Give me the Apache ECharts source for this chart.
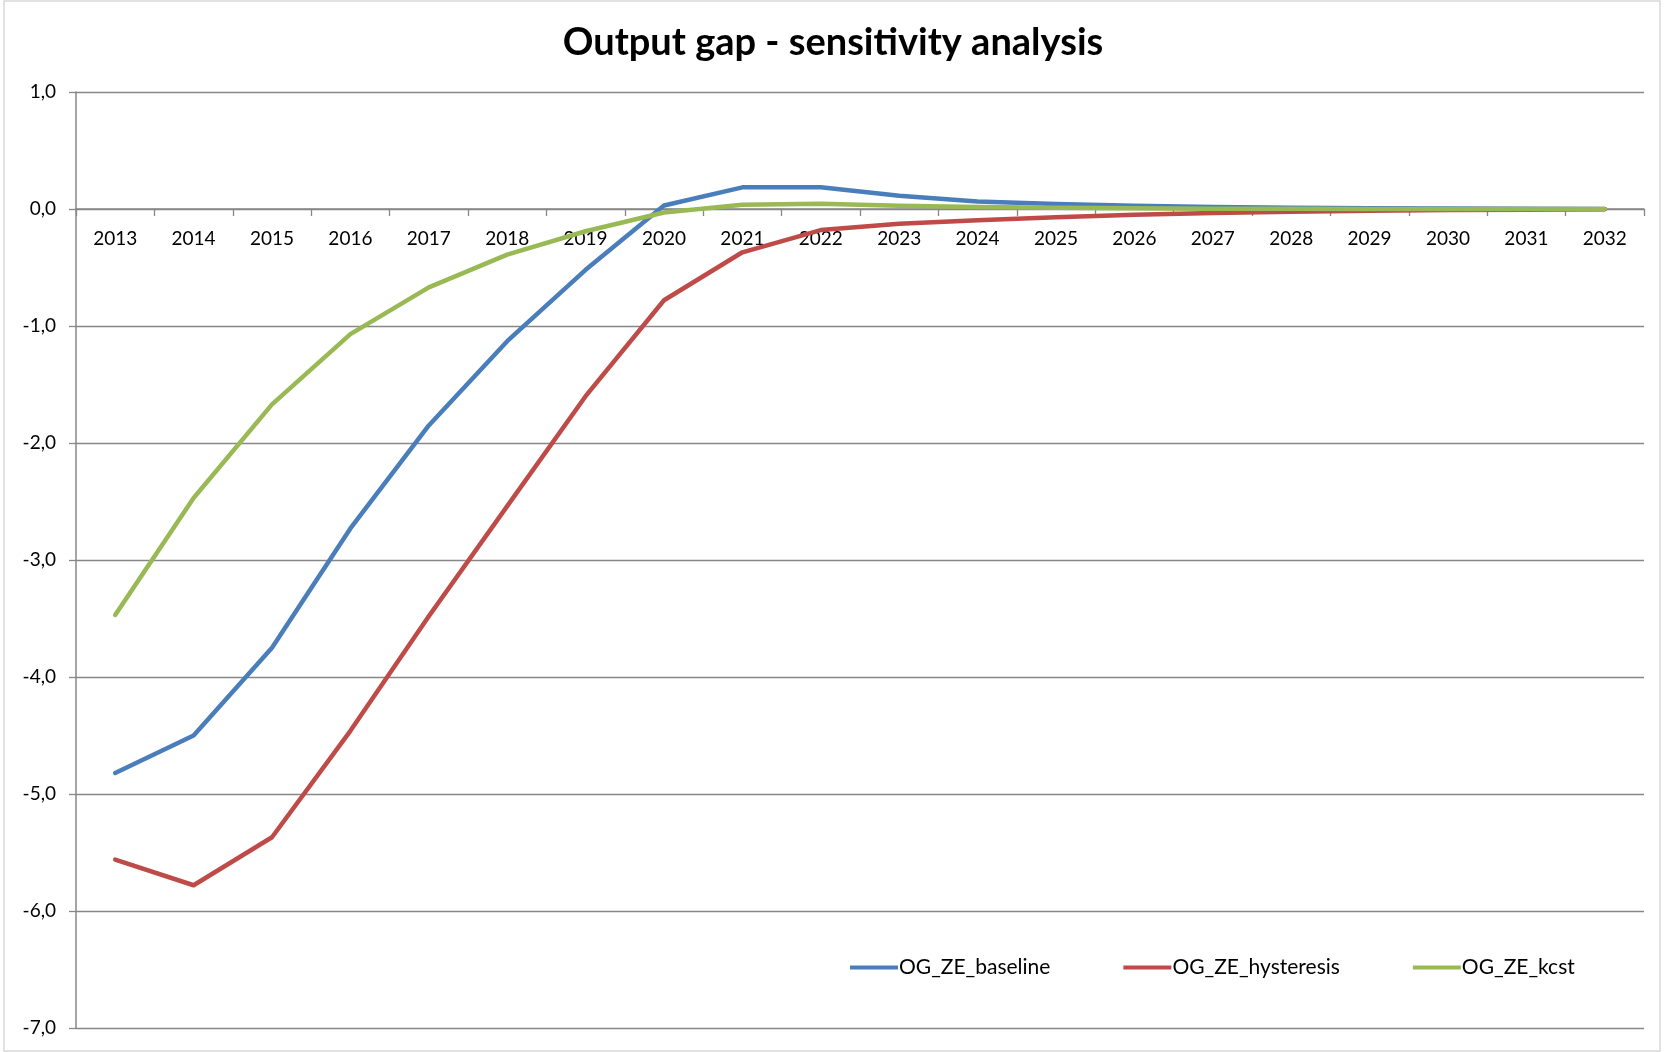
<!DOCTYPE html>
<html>
<head>
<meta charset="utf-8">
<title>Output gap - sensitivity analysis</title>
<script src="https://cdn.jsdelivr.net/npm/echarts@6/dist/echarts.min.js"></script>
<style>
  html, body { margin: 0; padding: 0; background: #ffffff; }
  #chart { width: 1666px; height: 1052px; }
</style>
</head>
<body>
<div id="chart"></div>
<script>
// Years on the horizontal axis
const years = ['2013','2014','2015','2016','2017','2018','2019','2020','2021','2022',
               '2023','2024','2025','2026','2027','2028','2029','2030','2031','2032'];

// Output gap, % of potential output
const ogBaseline = [-4.82, -4.50, -3.75, -2.73, -1.85, -1.13, -0.52, 0.03, 0.185, 0.185,
                    0.114, 0.065, 0.043, 0.028, 0.017, 0.010, 0.006, 0.004, 0.002, 0.001];
const ogHysteresis = [-5.56, -5.78, -5.37, -4.46, -3.48, -2.54, -1.60, -0.78, -0.37, -0.18,
                      -0.126, -0.097, -0.071, -0.049, -0.034, -0.023, -0.014, -0.009, -0.006, -0.003];
const ogKcst = [-3.47, -2.47, -1.67, -1.07, -0.67, -0.39, -0.19, -0.03, 0.037, 0.045,
                0.028, 0.017, 0.010, 0.006, 0.003, 0.002, 0.001, 0.0, 0.0, 0.0];

// Value-axis range and step
const yMin = -7;
const yMax = 1;
const yStep = 1;

const seriesNames = ['OG_ZE_baseline', 'OG_ZE_hysteresis', 'OG_ZE_kcst'];
const seriesColors = ['#4A7EBB', '#BE4B48', '#98B954'];

const FONT = 'Lato, "Open Sans", sans-serif';
const GREY = '#878787';

// Plot area margins (px)
const GRID = { left: 76, right: 22, top: 92, bottom: 24 };
const CHART_H = 1052;

// The year axis sits on the zero line: place it at the top edge and shift it
// down by the pixel distance from yMax to 0, with ticks and labels pointing down.
const plotH = CHART_H - GRID.top - GRID.bottom;
const zeroOffset = -plotH * (yMax - 0) / (yMax - yMin);

const chart = echarts.init(document.getElementById('chart'), null, { renderer: 'canvas' });

function lineSeries(name, data, color) {
  return {
    name: name,
    type: 'line',
    data: data,
    symbol: 'none',
    showSymbol: false,
    smooth: false,
    lineStyle: { color: color, width: 4.5, cap: 'round', join: 'round' },
    itemStyle: { color: color },
    emphasis: { disabled: true },
    animation: false
  };
}

chart.setOption({
  animation: false,
  backgroundColor: '#ffffff',
  title: {
    text: 'Output gap - sensitivity analysis',
    left: 'center',
    top: 19,
    textStyle: { fontFamily: FONT, fontSize: 38, fontWeight: 'bold', color: '#000000' }
  },
  graphic: [{
    type: 'rect',
    shape: { x: 4, y: 1, width: 1656, height: 1050 },
    style: { fill: 'none', stroke: '#d9d9d9', lineWidth: 1.5 },
    silent: true,
    z: -1
  }],
  legend: {
    data: seriesNames,
    left: 845,
    top: 952,
    icon: 'rect',
    itemWidth: 48,
    itemHeight: 4,
    itemGap: 73,
    textStyle: { fontFamily: FONT, fontSize: 21, color: '#000000', padding: [0, 0, 0, -4] }
  },
  grid: { left: GRID.left, right: GRID.right, top: GRID.top, bottom: GRID.bottom, containLabel: false },
  xAxis: {
    type: 'category',
    data: years,
    position: 'top',
    offset: zeroOffset,
    boundaryGap: true,
    axisLine: { onZero: false, lineStyle: { color: GREY, width: 1.5 } },
    axisTick: { show: true, length: 7, inside: true, lineStyle: { color: GREY, width: 1.3 } },
    axisLabel: { inside: true, fontFamily: FONT, fontSize: 19, color: '#000000', margin: 20, interval: 0 },
    splitLine: { show: false }
  },
  yAxis: {
    type: 'value',
    min: yMin,
    max: yMax,
    interval: yStep,
    axisLine: { show: true, lineStyle: { color: GREY, width: 1.5 } },
    axisTick: { show: true, length: 7, lineStyle: { color: GREY, width: 1.3 } },
    axisLabel: {
      fontFamily: FONT, fontSize: 19, color: '#000000', margin: 20,
      formatter: v => v.toFixed(1).replace('.', ',')
    },
    splitLine: { show: true, lineStyle: { color: GREY, width: 1.3 } }
  },
  series: [
    lineSeries(seriesNames[0], ogBaseline, seriesColors[0]),
    lineSeries(seriesNames[1], ogHysteresis, seriesColors[1]),
    lineSeries(seriesNames[2], ogKcst, seriesColors[2])
  ]
});
</script>
</body>
</html>
